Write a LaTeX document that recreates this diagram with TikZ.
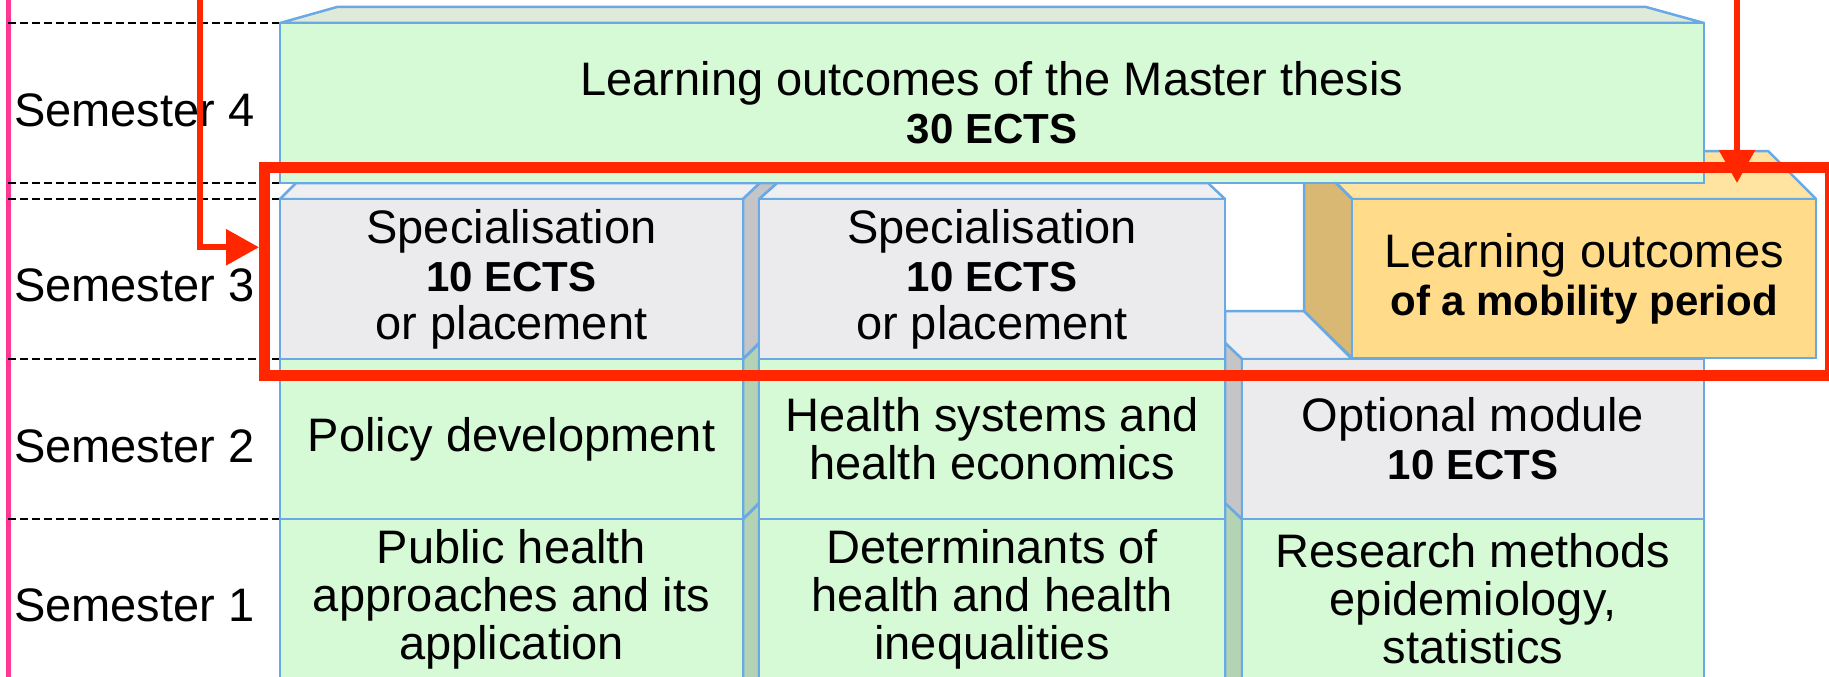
\documentclass[tikz,border=0pt]{standalone}
\usepackage{fontspec}
\setmainfont{Liberation Sans}
\usetikzlibrary{arrows.meta}
\definecolor{boxline}{RGB}{106,170,228}
\definecolor{unitgreen}{RGB}{214,250,214}
\definecolor{sidegreen}{RGB}{180,210,180}
\definecolor{thesistop}{RGB}{224,234,216}
\definecolor{unitgrey}{RGB}{235,235,238}
\definecolor{topgrey}{RGB}{239,239,242}
\definecolor{sidegrey}{RGB}{197,197,199}
\definecolor{mobfront}{RGB}{255,219,138}
\definecolor{mobtop}{RGB}{255,227,160}
\definecolor{mobside}{RGB}{216,184,114}
\definecolor{markred}{RGB}{255,38,0}
\definecolor{semline}{RGB}{255,56,150}

\begin{document}
\begin{tikzpicture}[x=1pt,y=-1pt,
    unit/.style={draw=boxline,line width=2.5pt,inner sep=0pt,outer sep=0pt,
      anchor=north west,align=center,font=\fontsize{47}{48}\selectfont},
    greenunit/.style={unit,fill=unitgreen},
    greyunit/.style={unit,fill=unitgrey},
    face/.style={draw=boxline,line width=2.5pt,line join=round},
    guide/.style={dashed,dash pattern=on 8pt off 4pt,line width=1.5pt},
    semlabel/.style={anchor=west,inner sep=0pt,font=\fontsize{47}{48}\selectfont},
    redframe/.style={draw=markred,line width=11pt,inner sep=0pt,anchor=north west,
      minimum width=1565.5pt,minimum height=207.5pt},
    pointer/.style={draw=markred,line width=6pt,-{Triangle[length=33pt,width=35pt]}}]
  \useasboundingbox (0,0) rectangle (1829,677);

  % semester bands
  \draw[line width=5pt,semline] (8,0) -- (8,677);
  \foreach \y in {23,183,199,359,519}
    \draw[guide] (8,\y) -- (280,\y);
  \foreach \n/\y in {4/110,3/285,2/446,1/605}
    \node[semlabel] (sem\n) at (14,\y) {Semester \n};

  % semester 1
  \filldraw[face,fill=sidegreen] (743,519) -- (760,503) -- (777,503) -- (759,519) -- (759,700) -- (743,700) -- cycle;
  \filldraw[face,fill=sidegreen] (1242,519) -- (1225,503) -- (1225,700) -- (1242,700) -- cycle;
  \node[greenunit,minimum width=463pt,minimum height=160pt] (publichealth) at (280,519)
    {Public health\\ approaches and its\\ application};
  \node[greenunit,minimum width=466pt,minimum height=160pt] (determinants) at (759,519)
    {Determinants of\\ health and health\\ inequalities};
  \node[greenunit,minimum width=462pt,minimum height=160pt] (research) at (1242,519)
    {Research methods\\ epidemiology,\\ statistics};

  % semester 2
  \filldraw[face,fill=topgrey] (1225,311) -- (1304,311) -- (1352,359) -- (1242,359) -- (1225,343) -- cycle;
  \filldraw[face,fill=sidegreen] (743,359) -- (760,343) -- (777,343) -- (759,359) -- (759,503) -- (743,519) -- cycle;
  \filldraw[face,fill=sidegrey] (1242,359) -- (1225,343) -- (1225,503) -- (1242,519) -- cycle;
  \node[greenunit,minimum width=463pt,minimum height=160pt] (policy) at (280,359)
    {Policy development};
  \node[greenunit,minimum width=466pt,minimum height=160pt] (systems) at (759,359)
    {Health systems and\\ health economics};
  \node[greyunit,minimum width=462pt,minimum height=160pt] (optional) at (1242,359)
    {Optional module\\ {\fontsize{42}{48}\selectfont\bfseries 10 ECTS}};

  % semester 3
  \filldraw[face,fill=topgrey] (280,199) -- (296,183) -- (760,183) -- (743,199) -- cycle;
  \filldraw[face,fill=topgrey] (759,199) -- (777,183) -- (1208,183) -- (1225,199) -- cycle;
  \filldraw[face,fill=sidegrey] (743,199) -- (760,183) -- (777,183) -- (759,199) -- (759,343) -- (743,359) -- cycle;
  \node[greyunit,minimum width=463pt,minimum height=160pt] (spec1) at (280,199)
    {Specialisation\\ {\fontsize{42}{48}\selectfont\bfseries 10 ECTS}\\ or placement};
  \node[greyunit,minimum width=466pt,minimum height=160pt] (spec2) at (759,199)
    {Specialisation\\ {\fontsize{42}{48}\selectfont\bfseries 10 ECTS}\\ or placement};

  % mobility period, pulled out of its slot
  \filldraw[face,fill=mobtop] (1304,151) -- (1768,151) -- (1816,199) -- (1352,199) -- cycle;
  \filldraw[face,fill=mobside] (1304,151) -- (1352,199) -- (1352,358) -- (1304,311) -- cycle;
  \node[unit,fill=mobfront,minimum width=464pt,minimum height=159pt] (mobility) at (1352,199)
    {Learning outcomes\\ {\fontsize{42}{48}\selectfont\bfseries of a mobility period}};

  % semester 4
  \filldraw[face,fill=thesistop] (280,23) -- (337,7) -- (1646,7) -- (1704,23) -- cycle;
  \node[greenunit,minimum width=1424pt,minimum height=160pt] (thesis) at (280,23)
    {Learning outcomes of the Master thesis\\ {\fontsize{42}{48}\selectfont\bfseries 30 ECTS}};

  % red marking
  \node[redframe] (frame) at (259,162) {};
  \coordinate (top1) at (200,-10);
  \coordinate (top2) at (1737,-10);
  \coordinate (drop) at (1737,183);
  \draw[pointer] (top1) |- ([yshift=24pt]frame.west);
  \draw[pointer] (top2) -- (drop);
\end{tikzpicture}
\end{document}
